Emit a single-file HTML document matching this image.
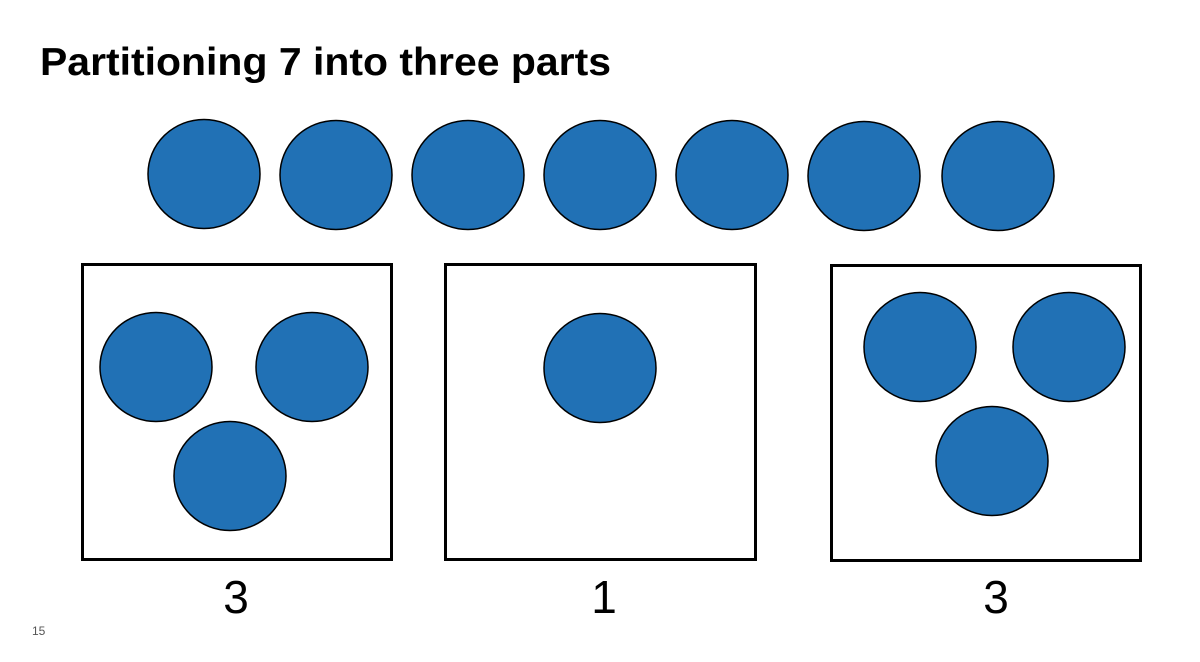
<!DOCTYPE html>
<html><head><style>
body{margin:0;width:1200px;height:662px;background:#fff;overflow:hidden;position:relative;font-family:"Liberation Sans",Arial,sans-serif}
svg{position:absolute;left:0;top:0}
</style></head><body>
<svg width="1200" height="662" xmlns="http://www.w3.org/2000/svg">
<text x="40" y="75" font-family="Liberation Sans, Arial, sans-serif" font-weight="bold" font-size="39" textLength="571" lengthAdjust="spacingAndGlyphs">Partitioning 7 into three parts</text>
<g fill="#2171b5" stroke="#000" stroke-width="1.5">
<ellipse cx="204" cy="174" rx="56" ry="54.5"/>
<ellipse cx="336" cy="175" rx="56" ry="54.5"/>
<ellipse cx="468" cy="175" rx="56" ry="54.5"/>
<ellipse cx="600" cy="175" rx="56" ry="54.5"/>
<ellipse cx="732" cy="175" rx="56" ry="54.5"/>
<ellipse cx="864" cy="176" rx="56" ry="54.5"/>
<ellipse cx="998" cy="176" rx="56" ry="54.5"/>
<ellipse cx="156" cy="367" rx="56" ry="54.5"/>
<ellipse cx="312" cy="367" rx="56" ry="54.5"/>
<ellipse cx="230" cy="476" rx="56" ry="54.5"/>
<ellipse cx="600" cy="368" rx="56" ry="54.5"/>
<ellipse cx="920" cy="347" rx="56" ry="54.5"/>
<ellipse cx="1069" cy="347" rx="56" ry="54.5"/>
<ellipse cx="992" cy="461" rx="56" ry="54.5"/>
</g>
<g fill="none" stroke="#000" stroke-width="3">
<rect x="82.5" y="264.5" width="309" height="295"/>
<rect x="445.5" y="264.5" width="310" height="295"/>
<rect x="831.5" y="265.5" width="309" height="295"/>
</g>
<g font-family="Liberation Sans, Arial, sans-serif" font-size="46" text-anchor="middle">
<text x="236" y="613">3</text>
<text x="604" y="613">1</text>
<text x="996" y="613">3</text>
</g>
<text x="32" y="635" font-family="Liberation Sans, Arial, sans-serif" font-size="12" fill="#555">15</text>
</svg>
</body></html>
